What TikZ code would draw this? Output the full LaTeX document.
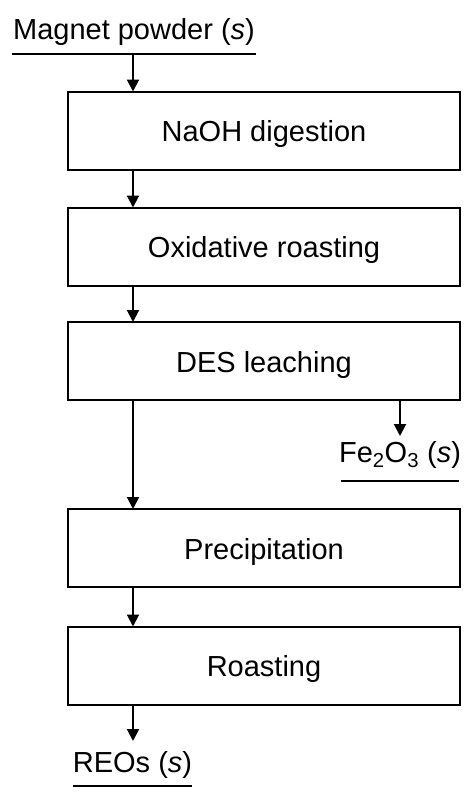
\documentclass[tikz,border=0pt]{standalone}
\usepackage{fontspec}
\setmainfont{Liberation Sans}
\usetikzlibrary{arrows.meta}
\begin{document}
\begin{tikzpicture}[x=1pt,y=-1pt,
  txt/.style={font=\fontsize{29}{34}\selectfont},
  stepbox/.style={draw, line width=2pt, minimum width=392.5pt, minimum height=78pt, inner sep=0pt, outer sep=0pt, text height=28pt, text depth=6pt, txt},
  lbl/.style={anchor=base, inner sep=0pt, txt},
  uline/.style={line width=2pt},
  arr/.style={line width=2pt, -{Triangle[length=12pt,width=12pt]}}]
\useasboundingbox (0,0) rectangle (476,795);
% labels
\node[lbl] (mp) at (134,39) {Magnet powder (\textit{s})};
\draw[uline] (12,54) coordinate (mpl) -- (256,54) coordinate (mpr);
\coordinate (mps) at (133,54);
\node[lbl] (fe) at (400,462) {Fe\textsubscript{2}O\textsubscript{3} (\textit{s})};
\draw[uline] (341,481) coordinate (fel) -- (459,481) coordinate (fer);
\coordinate (fetip) at (400,436);
\node[lbl] (reo) at (132.5,772) {REOs (\textit{s})};
\draw[uline] (73,786) coordinate (reol) -- (192,786) coordinate (reor);
\coordinate (reotip) at (133,741);
% boxes
\node[stepbox] (b1) at (264,130.5) {NaOH digestion};
\node[stepbox] (b2) at (264,246.5) {Oxidative roasting};
\node[stepbox] (b3) at (264,361) {DES leaching};
\node[stepbox] (b4) at (264,548) {Precipitation};
\node[stepbox] (b5) at (264,665.5) {Roasting};
% arrows
\coordinate (ax) at (133,0);
\draw[arr] (mps) -- (b1.north -| ax);
\draw[arr] (b1.south -| ax) -- (b2.north -| ax);
\draw[arr] (b2.south -| ax) -- (b3.north -| ax);
\draw[arr] (b3.south -| ax) -- (b4.north -| ax);
\draw[arr] (b4.south -| ax) -- (b5.north -| ax);
\draw[arr] (b5.south -| ax) -- (reotip);
\draw[arr] (b3.south -| fetip) -- (fetip);
\end{tikzpicture}
\end{document}
